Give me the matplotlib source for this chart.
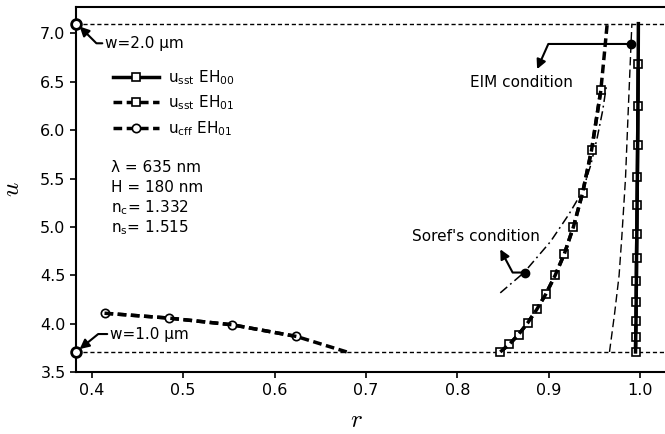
import numpy as np
import matplotlib.pyplot as plt

# slab (sst) solution, EH00
r_sst00 = [0.9950, 0.9952, 0.9955, 0.9957, 0.9959, 0.9961,
           0.9964, 0.9967, 0.9970, 0.9973, 0.9976, 0.9979, 0.9981]
u_sst00 = [3.71, 3.86, 4.03, 4.23, 4.44, 4.68,
           4.93, 5.23, 5.52, 5.85, 6.25, 6.68, 7.10]

# slab (sst) solution, EH01
r_sst01 = [0.847, 0.857, 0.867, 0.877, 0.887, 0.897, 0.907,
           0.917, 0.927, 0.937, 0.947, 0.957, 0.9605, 0.964]
u_sst01 = [3.71, 3.79, 3.89, 4.01, 4.15, 4.31, 4.50,
           4.72, 5.00, 5.35, 5.80, 6.41, 6.75, 7.10]
n_mark01 = 12

# coupled (cff) solution, EH01
r_cff01 = [0.414, 0.484, 0.554, 0.624, 0.679]
u_cff01 = [4.11, 4.06, 3.99, 3.87, 3.71]
n_markcff = 4

# EIM condition curve
r_eim = [0.9665, 0.972, 0.977, 0.980, 0.984, 0.987, 0.991]
u_eim = [3.71, 4.10, 4.50, 4.90, 5.50, 6.20, 7.10]

# Soref's condition curve
r_soref = [0.847, 0.873, 0.902, 0.922, 0.937, 0.946, 0.953, 0.959, 0.963]
u_soref = [4.32, 4.53, 4.85, 5.13, 5.37, 5.64, 5.92, 6.20, 6.45]

# bounds
r_min = 0.3828
u_lo, u_hi = 3.71, 7.10
eim_pt = (0.9895, 6.89)
soref_pt = (0.8737, 4.53)


def main():
    plt.rcParams["font.size"] = 11
    fig = plt.figure(figsize=(6.65, 4.34), dpi=100)
    ax = fig.add_axes([0.1143, 0.1422, 0.8895, 0.8424])

    ax.axhline(u_hi, color="k", lw=1, dashes=(3, 2), zorder=1)
    ax.axhline(u_lo, color="k", lw=1, dashes=(3, 2), zorder=1)

    mk = dict(markerfacecolor="white", markeredgecolor="k", markeredgewidth=1.2, markersize=6)

    # EH00 sst
    ax.plot(r_sst00[:-1], u_sst00[:-1], "k-", marker="s", lw=2.5,
            label=r"u$_{\rm sst}$ EH$_{00}$", **mk, zorder=3)
    ax.plot(r_sst00, u_sst00, "k-", lw=2.5, zorder=4)

    # EH01 sst
    ax.plot(r_sst01[:n_mark01], u_sst01[:n_mark01], "k", marker="s", lw=2.5,
            dashes=(2.5, 1.3), label=r"u$_{\rm sst}$ EH$_{01}$", **mk, zorder=3)
    ax.plot(r_sst01, u_sst01, "k", lw=2.5, dashes=(2.5, 1.3), zorder=4)

    # EH01 cff
    ax.plot(r_cff01[:n_markcff], u_cff01[:n_markcff], "k", marker="o", lw=2.5,
            dashes=(2.5, 1.3), label=r"u$_{\rm cff}$ EH$_{01}$", **mk, zorder=3)
    ax.plot(r_cff01, u_cff01, "k", lw=2.5, dashes=(2.5, 1.3), zorder=4)

    # conditions
    ax.plot(r_eim, u_eim, "k", lw=1, dashes=(6, 3), zorder=2)
    ax.plot(r_soref, u_soref, "k", lw=1.1, dashes=(6, 2.5, 1.2, 2.5), zorder=2)
    ax.plot(*eim_pt, "ko", ms=6, zorder=5)
    ax.plot(*soref_pt, "ko", ms=6, zorder=5)

    ap = dict(arrowstyle="-|>", color="k", lw=1.5, mutation_scale=14, shrinkA=0, shrinkB=0)
    ax.annotate("", xy=(0.8873, 6.63), xytext=eim_pt,
                arrowprops=dict(connectionstyle="angle,angleA=0,angleB=66,rad=0", **ap))
    ax.text(0.8705, 6.49, "EIM condition", ha="center", va="center")
    ax.annotate("", xy=(0.847, 4.77), xytext=soref_pt,
                arrowprops=dict(connectionstyle="angle,angleA=0,angleB=118,rad=0", **ap))
    ax.text(0.8207, 4.90, "Soref's condition", ha="center", va="center")

    # width end points
    ax.plot([r_min, r_min], [u_lo, u_hi], "o", color="k", markerfacecolor="white",
            markeredgewidth=2, ms=7, clip_on=False, zorder=6)
    ax.annotate("w=2.0 \u00b5m", xy=(r_min + 0.004, u_hi - 0.03), xytext=(0.4146, 6.897),
                ha="left", va="center",
                arrowprops=dict(connectionstyle="angle,angleA=0,angleB=135,rad=0", **ap))
    ax.annotate("w=1.0 \u00b5m", xy=(r_min + 0.004, u_lo + 0.03), xytext=(0.42, 3.895),
                ha="left", va="center",
                arrowprops=dict(connectionstyle="angle,angleA=0,angleB=39,rad=0", **ap))

    # parameters
    params = ["\u03bb = 635 nm", "H = 180 nm", r"n$_{\rm c}$= 1.332", r"n$_{\rm s}$= 1.515"]
    for i, s in enumerate(params):
        ax.text(0.4207, 5.61 - i * 0.205, s, ha="left", va="center")

    ax.legend(loc="upper left", bbox_to_anchor=(0.04, 0.87), frameon=False,
              handlelength=3.0, handletextpad=0.6, labelspacing=0.45)

    ax.set_xlim(r_min, 1.03)
    ax.set_ylim(3.5, 7.275)
    ax.set_xticks(np.arange(0.4, 1.01, 0.1))
    ax.set_yticks(np.arange(3.5, 7.01, 0.5))
    for sp in ax.spines.values():
        sp.set_linewidth(1.5)
    ax.tick_params(direction="out", length=4, width=1.2, labelsize=11.5)

    ax.set_xlabel("$r$", fontsize=18, math_fontfamily="cm")
    ax.set_ylabel("$u$", fontsize=18, math_fontfamily="cm")
    ax.xaxis.set_label_coords(0.4746, -0.097)
    ax.yaxis.set_label_coords(-0.088, 0.5)

    fig.savefig("out.png", dpi=100)


if __name__ == "__main__":
    main()
